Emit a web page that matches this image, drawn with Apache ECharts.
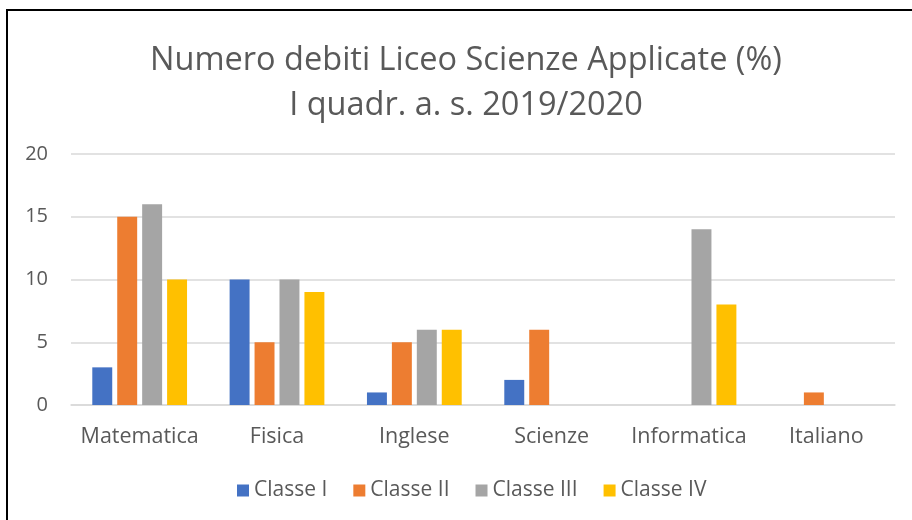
<!DOCTYPE html>
<html>
<head>
	<meta charset="utf-8">
	<title></title>
	<script src="https://cdn.jsdelivr.net/npm/echarts@6/dist/echarts.min.js"></script>
	<style>
		html,body{margin:0;padding:0;background:#fff;}
		#chart{width:912px;height:520px;}
	</style>
</head>
<body>
	<div id="chart"></div>
<script type="text/javascript">
	// dati
	var materie=['Matematica','Fisica','Inglese','Scienze','Informatica','Italiano'];
	var classe1=[3,10,1,2,null,null];
	var classe2=[15,5,5,6,null,1];
	var classe3=[16,10,6,null,14,null];
	var classe4=[10,9,6,null,8,null];
	var nomi=['Classe I','Classe II','Classe III','Classe IV'];
	var colori=['#4472C4','#ED7D31','#A5A5A5','#FFC000'];

	var font='"Open Sans", sans-serif';
	var myChart=echarts.init(document.getElementById('chart'),null,{renderer:'canvas'});
	var serie=[classe1,classe2,classe3,classe4].map(function(d,i){
		return {
			name:nomi[i],
			type:'bar',
			data:d,
			barGap:'25%',
			barCategoryGap:'31%',
			itemStyle:{color:colori[i]}
		};
	});
	var option={
		animation:false,
		title:{
			text:'Numero debiti Liceo Scienze Applicate (%)\nI quadr. a. s. 2019/2020',
			left:461,
			textAlign:'center',
			top:33,
			textStyle:{fontFamily:font,fontWeight:'normal',fontSize:32.5,color:'#595959',lineHeight:45}
		},
		legend:{
			bottom:14,
			left:232,
			itemWidth:12,
			itemHeight:12,
			itemGap:26,
			icon:'rect',
			textStyle:{fontFamily:font,fontSize:21,color:'#595959'},
			data:nomi
		},
		grid:{left:71,right:17,top:154,bottom:115,containLabel:false},
		xAxis:{
			type:'category',
			data:materie,
			axisTick:{show:false},
			axisLine:{lineStyle:{color:'#d9d9d9',width:1.5}},
			axisLabel:{interval:0,fontFamily:font,fontSize:21.5,color:'#595959',margin:21}
		},
		yAxis:{
			type:'value',
			min:0,
			max:20,
			interval:5,
			axisLabel:{fontFamily:font,fontSize:20,color:'#595959',margin:23},
			splitLine:{lineStyle:{color:'#d9d9d9',width:1.5}}
		},
		graphic:[{
			type:'rect',
			shape:{x:7,y:10,width:920,height:530},
			style:{fill:null,stroke:'#000',lineWidth:2}
		}],
		series:serie
	};
	myChart.setOption(option);
</script>
</body>
</html>
